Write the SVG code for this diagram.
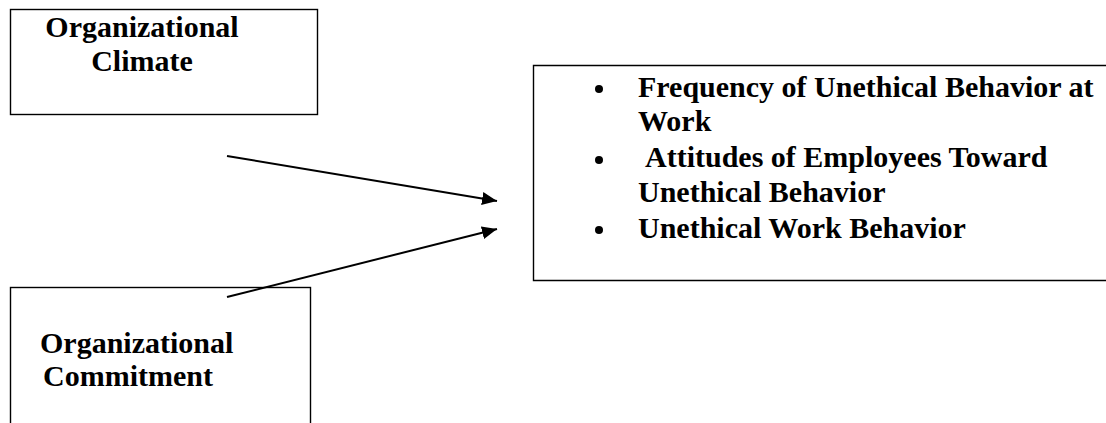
<svg xmlns="http://www.w3.org/2000/svg" width="1106" height="423" viewBox="0 0 1106 423">
<style>
.box{fill:#fff;stroke:#000;stroke-width:1.4}
.t{font-family:"Liberation Serif","Times New Roman",serif;font-weight:bold;font-size:30px;fill:#000}
.c{stroke:#000;stroke-width:2;fill:none}
</style>
<defs>
<marker id="arr" viewBox="0 0 15 13" refX="15" refY="6.5" markerWidth="15" markerHeight="13" markerUnits="userSpaceOnUse" orient="auto">
<path d="M0,0 L15,6.5 L0,13 z" fill="#000"/>
</marker>
</defs>
<rect width="1106" height="423" fill="#fff"/>
<g id="climate">
<rect class="box" x="10.5" y="9.5" width="307" height="105"/>
<text class="t" x="142" y="37" text-anchor="middle">Organizational</text>
<text class="t" x="142" y="71" text-anchor="middle">Climate</text>
</g>
<g id="commitment">
<rect class="box" x="10.5" y="287.5" width="300" height="150"/>
<text class="t" x="40" y="353">Organizational</text>
<text class="t" x="43" y="386">Commitment</text>
</g>
<g id="outcomes">
<path class="box" d="M1110,65.5 H533.5 V280.5 H1110"/>
<circle cx="599" cy="89" r="4"/>
<text class="t" x="638" y="97">Frequency of Unethical Behavior at</text>
<text class="t" x="638" y="131">Work</text>
<circle cx="599" cy="160" r="4"/>
<text class="t" x="645" y="167">Attitudes of Employees Toward</text>
<text class="t" x="638" y="202">Unethical Behavior</text>
<circle cx="599" cy="230" r="4"/>
<text class="t" x="638" y="238">Unethical Work Behavior</text>
</g>
<g id="connectors">
<line class="c" x1="227" y1="156" x2="497" y2="201" marker-end="url(#arr)"/>
<line class="c" x1="227" y1="297" x2="497" y2="229" marker-end="url(#arr)"/>
</g>
</svg>
